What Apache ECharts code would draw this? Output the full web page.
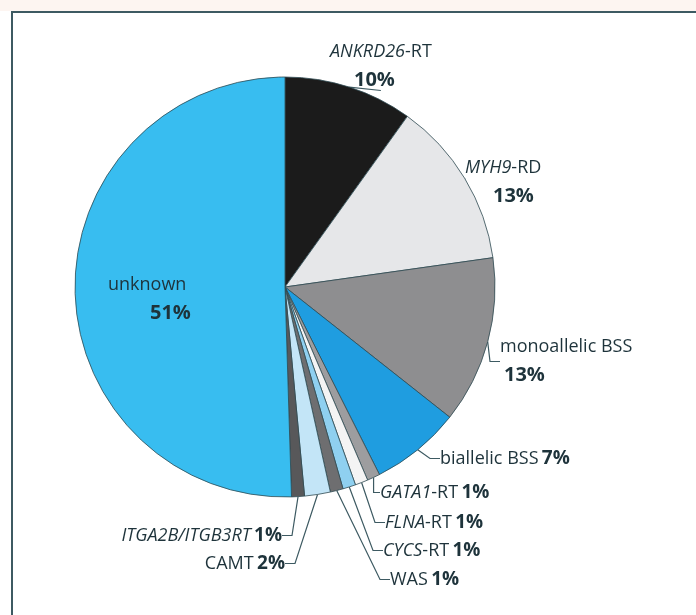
<!DOCTYPE html>
<html>
<head>
<meta charset="utf-8">
<script src="https://cdn.jsdelivr.net/npm/echarts@6/dist/echarts.min.js"></script>
<style>
  html, body { margin: 0; padding: 0; background: #fff; overflow: hidden; }
  #chart { width: 696px; height: 615px; }
</style>
</head>
<body>
<div id="chart"></div>
<script>
// slices, clockwise from 12 o'clock
const names = ['ANKRD26-RT', 'MYH9-RD', 'monoallelic BSS', 'biallelic BSS', 'GATA1-RT',
  'FLNA-RT', 'CYCS-RT', 'WAS', 'CAMT', 'ITGA2B/ITGB3RT', 'unknown']
const italicPart = ['ANKRD26', 'MYH9', '', '', 'GATA1', 'FLNA', 'CYCS', '', '', 'ITGA2B/ITGB3RT', '']
const values = [10, 13, 13, 7, 1, 1, 1, 1, 2, 1, 51]
const percentLabels = ['10%', '13%', '13%', '7%', '1%', '1%', '1%', '1%', '2%', '1%', '51%']
const twoLine = [true, true, true, false, false, false, false, false, false, false, true]

const colors = ['#1b1b1b', '#e6e7e9', '#8e8e90', '#1f9de0', '#9d9d9f', '#f4f4f4',
  '#8fd0f0', '#6e6e70', '#c3e5f7', '#58585a', '#38bdf0']

// label anchor: [x, y, align, second-line indent]
const labelPos = [
  [330, 37, 'left', 24],
  [465, 153, 'left', 28],
  [500, 332, 'left', 4],
  [440, 444, 'left', 0],
  [380, 478, 'left', 0],
  [385, 508, 'left', 0],
  [383, 536, 'left', 0],
  [390, 565, 'left', 0],
  [285, 549, 'right', 0],
  [282, 521, 'right', 0],
  [108, 270, 'left', 42]
]

const textColor = '#1e333b'
const font = 'Open Sans'

function labelText(i) {
  const nm = names[i]
  const it = italicPart[i]
  let head
  if (it) {
    head = '{i|' + it + '}' + (nm.length > it.length ? '{n|' + nm.slice(it.length) + '}' : '')
  } else {
    head = '{n|' + nm + '}'
  }
  if (twoLine[i]) {
    return head + '\n{b' + i + '|' + percentLabels[i] + '}'
  }
  return head + ' {b|' + percentLabels[i] + '}'
}

const rich = {
  i: { fontStyle: 'italic', fontSize: 18, color: textColor, fontFamily: font, lineHeight: 29 },
  n: { fontSize: 18, color: textColor, fontFamily: font, lineHeight: 29 },
  b: { fontSize: 19, fontWeight: 'bold', color: textColor, fontFamily: font, lineHeight: 29 }
}
labelPos.forEach((p, i) => {
  rich['b' + i] = {
    fontSize: 20, fontWeight: 'bold', color: textColor, fontFamily: font,
    lineHeight: 29, padding: [0, 0, 0, p[3]]
  }
})

const chart = echarts.init(document.getElementById('chart'), null, { renderer: 'canvas' })

chart.setOption({
  animation: false,
  backgroundColor: '#fff',
  graphic: [
    // page strip above the box and the box's left/top edge
    { type: 'rect', silent: true, z: -10, shape: { x: 0, y: 0, width: 696, height: 11 },
      style: { fill: '#fdf5f1' } },
    { type: 'polyline', silent: true, z: -5,
      shape: { points: [[12, 615], [12, 12], [696, 12]] },
      style: { stroke: '#3d5a62', lineWidth: 2, fill: null } }
  ],
  series: [{
    type: 'pie',
    center: [285, 287],
    radius: 210,
    startAngle: 90,
    clockwise: true,
    avoidLabelOverlap: false,
    itemStyle: { borderColor: '#2f4a52', borderWidth: 0.8 },
    label: {
      show: true,
      position: 'outside',
      formatter: p => labelText(p.dataIndex),
      rich: rich
    },
    labelLine: {
      show: true,
      length: 10,
      length2: 10,
      lineStyle: { color: '#3d5a62', width: 1.2 }
    },
    labelLayout: p => {
      const pos = labelPos[p.dataIndex]
      return { x: pos[0], y: pos[1], align: pos[2], verticalAlign: 'top' }
    },
    data: names.map((n, i) => ({
      name: n,
      value: values[i],
      itemStyle: { color: colors[i] },
      labelLine: { show: n !== 'unknown' }
    }))
  }]
})
</script>
</body>
</html>
